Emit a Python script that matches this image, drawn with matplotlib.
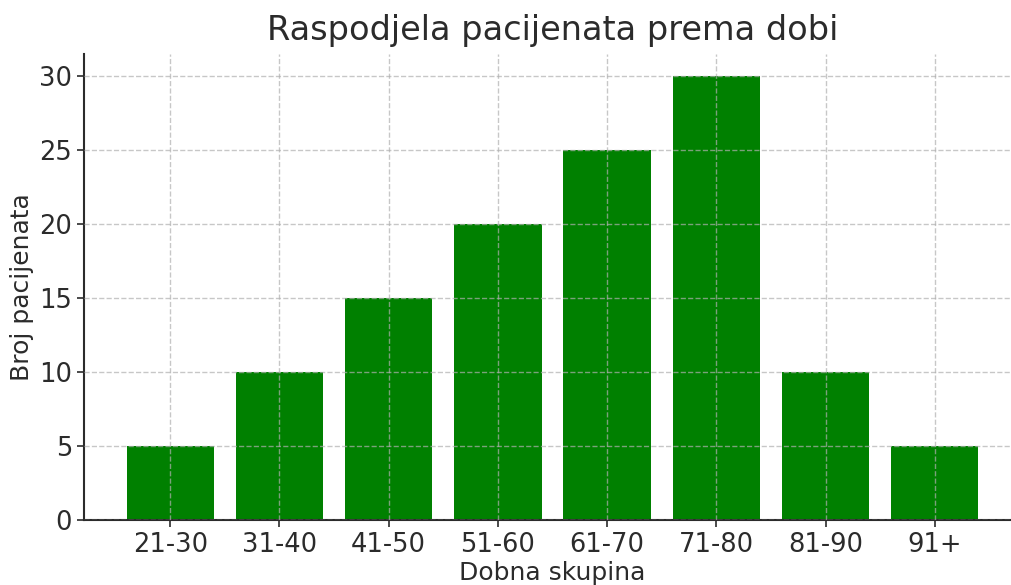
import matplotlib
matplotlib.use("Agg")
import matplotlib.pyplot as plt

age_groups = ["21-30", "31-40", "41-50", "51-60", "61-70", "71-80", "81-90", "91+"]
patient_counts = [5, 10, 15, 20, 25, 30, 10, 5]

plt.rcParams['font.family'] = ['DejaVu Sans']
text_color = "#2b2b2b"

fig = plt.figure(figsize=(10.12, 5.85), dpi=100)
ax = fig.add_axes([84 / 1012, 65 / 585, 937 / 1012, 466 / 585])

ax.bar(age_groups, patient_counts, color="green", width=0.8)

ax.set_title("Raspodjela pacijenata prema dobi", fontsize=24.2, color=text_color, pad=10)
ax.set_xlabel("Dobna skupina", fontsize=18, color=text_color, labelpad=2)
ax.set_ylabel("Broj pacijenata", fontsize=18, color=text_color, labelpad=4)

ax.grid(True, linestyle="--", color="#b0b0b0", alpha=0.7, linewidth=1)
ax.set_axisbelow(False)
ax.tick_params(axis="both", labelsize=18.5, colors=text_color, length=5, width=1.2)
for s in ["top", "right"]:
    ax.spines[s].set_visible(False)
for s in ["left", "bottom"]:
    ax.spines[s].set_color(text_color)
    ax.spines[s].set_linewidth(1.5)

fig.savefig("out.png", dpi=100)
